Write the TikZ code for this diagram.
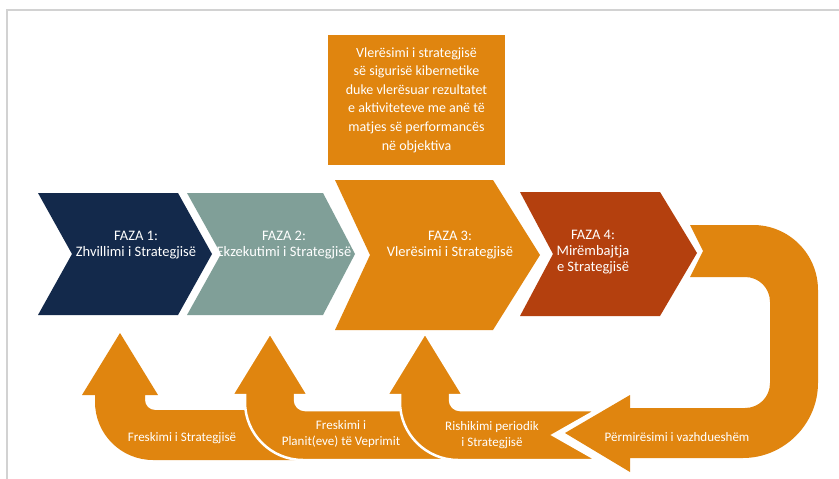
\documentclass[tikz,border=0pt]{standalone}
\usepackage{fontspec}
\setmainfont{Carlito}
\definecolor{navy}{HTML}{13294B}
\definecolor{sage}{HTML}{809F98}
\definecolor{amber}{HTML}{E0850F}
\definecolor{rust}{HTML}{B4400E}
\definecolor{framegray}{HTML}{D2D2D2}
\begin{document}
\begin{tikzpicture}[x=1pt,y=-1pt,
  phasetext/.style={text=white,align=center,font=\fontsize{14.5}{16}\selectfont},
  looptext/.style={text=white,align=center,font=\fontsize{13}{15.5}\selectfont},
  loopshape/.style={fill=amber,draw=white,line width=2.5pt,line join=miter},
]
\useasboundingbox (0,0) rectangle (839,479);
\fill[white] (0,0) rectangle (839,479);
\draw[framegray,line width=1.2] (7,479) -- (7,10) -- (839,10);

% evaluation box above phase 3
\node[fill=amber,minimum width=177pt,minimum height=130pt,inner sep=0pt,
      text=white,align=center,font=\fontsize{14}{18.6}\selectfont] (evalbox) at (416.5,100)
  {Vlerësimi i strategjisë\\ së sigurisë kibernetike\\ duke vlerësuar rezultatet\\
   e aktiviteteve me anë të\\ matjes së performancës\\ në objektiva};

% the four phase chevrons
\fill[navy] (38,193) -- (178,193) -- (212,254) -- (178,315) -- (38,315) -- (72,254) -- cycle;
\fill[sage] (187,193) -- (323,193) -- (355,254) -- (323,315) -- (187,315) -- (221,254) -- cycle;
\fill[amber] (335,180) -- (493,180) -- (540,255) -- (493,330) -- (335,330) -- (370,255) -- cycle;
\fill[rust] (520,192) -- (660,192) -- (697,253) -- (660,316) -- (520,316) -- (553,254) -- cycle;

\node[phasetext] (f1) at (136,245) {FAZA 1:\\Zhvillimi i Strategjisë};
\node[phasetext] (f2) at (284,245) {FAZA 2:\\Ekzekutimi i Strategjisë};
\node[phasetext] (f3) at (450,245) {FAZA 3:\\Vlerësimi i Strategjisë};
\node[phasetext] (f4) at (593,252) {FAZA 4:\\Mirëmbajtja\\e Strategjisë};

% U-turn arrow returning under the phases
\fill[amber] (690,225) -- (753,225) .. controls (789,225) and (818,254) .. (818,290)
  -- (818,383) .. controls (818,424) and (784,458) .. (743,458)
  -- (630,458) -- (630,472) -- (565,433) -- (630,395) -- (630,408)
  -- (745,408) .. controls (759,408) and (770,397) .. (770,383)
  -- (770,302) .. controls (770,288) and (759,277) .. (745,277)
  -- (690,277) -- (703,251) -- cycle;

% bent-up feedback arrows (left one first, each next one overlapping)
\newcommand\bentarrow[3][]{%
  \path[loopshape,#1] ({#2+25},333) -- ({#2+63},395) -- ({#2+50},395) -- ({#2+50},400)
    .. controls ({#2+50},405.5) and ({#2+54.5},410) .. ({#2+60},410)
    #3
    -- ({#2+58},460) .. controls ({#2+26},460) and ({#2},434) .. ({#2},402)
    -- ({#2},395) -- ({#2-13},395) -- cycle;}
\bentarrow[draw=none]{95}{-- (320,410) -- (320,460)}
\bentarrow{245}{-- (470,410) -- (470,460)}
\bentarrow{400}{-- (597,410) -- (553,435) -- (597,460)}

\node[looptext] (l1) at (182,438) {Freskimi i Strategjisë};
\node[looptext] (l2) at (341,434) {Freskimi i\\Planit(eve) të Veprimit};
\node[looptext] (l3) at (492,435) {Rishikimi periodik\\i Strategjisë};
\node[looptext] (l4) at (677,437) {Përmirësimi i vazhdueshëm};
\end{tikzpicture}
\end{document}
